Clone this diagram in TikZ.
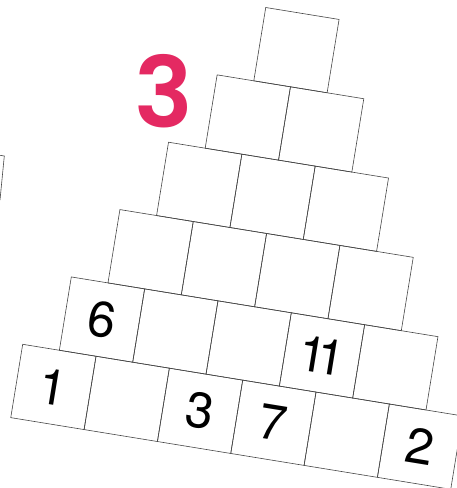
\documentclass[tikz,border=0pt]{standalone}
\usepackage{fontspec}
\newfontfamily\heros{TeX Gyre Heros}
\newfontfamily\pop{Poppins}[BoldFont={Poppins SemiBold}]
\definecolor{pinkred}{RGB}{228,41,98}
\definecolor{edge}{RGB}{70,70,70}
\tikzset{
  cell/.style={draw=edge, line width=0.6pt, rectangle, minimum size=74.3pt, inner sep=0pt, transform shape},
  num/.style={inner sep=0pt, transform shape, font=\heros\fontsize{50}{50}\selectfont},
}
\begin{document}
\begin{tikzpicture}[x=1pt,y=1pt]
\useasboundingbox (0,0) rectangle (456,488);
\fill[white] (0,0) rectangle (456,488);
% partial box of a neighbouring figure at the left edge
\draw[edge, line width=0.6pt] (0,332.7) -- (4.3,332) -- (0,288);
% title
\node[inner sep=0pt, text=pinkred, font=\pop\bfseries\fontsize{98}{98}\selectfont] (title) at (164.3,397.3) {3};
\begin{scope}[shift={(22.7,143.7)}, rotate=-9.25]
  \foreach \k in {0,...,5}{
    \pgfmathtruncatemacro{\last}{5-\k}
    \foreach \j in {0,...,\last}{
      \node[cell] (b-\k-\j) at ({\k*37.15 + \j*74.3 + 37.15}, {\k*74.3 - 37.15}) {};
    }
  }
  \node[num] (n1) at (b-0-0.center) {1};
  \node[num] (n3) at (b-0-2.center) {3};
  \node[num] (n7) at (b-0-3.center) {7};
  \node[num] (n2) at (b-0-5.center) {2};
  \node[num] (n6) at (b-1-0.center) {6};
  \node[num] (n11) at (b-1-3.center) {1\kern-0.18em1};
\end{scope}
\end{tikzpicture}
\end{document}
